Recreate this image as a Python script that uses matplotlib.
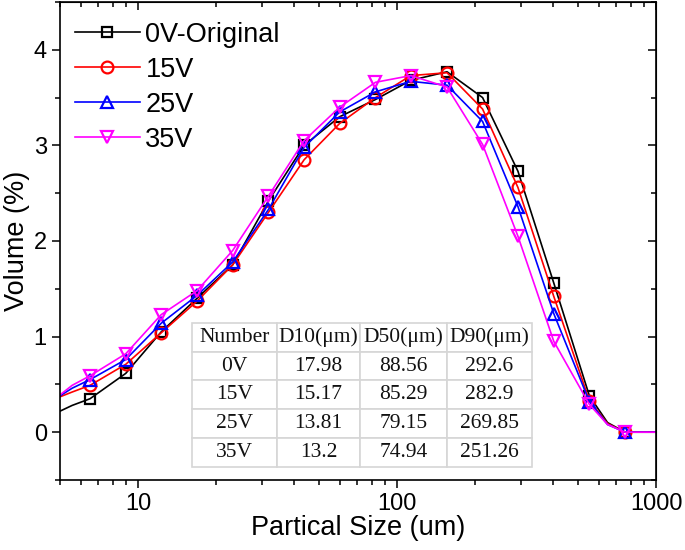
import numpy as np
import matplotlib.pyplot as plt
from matplotlib.ticker import MultipleLocator, LogLocator, NullFormatter

plt.rcParams['font.family'] = ['Liberation Sans', 'DejaVu Sans']

# tamaños de partícula (um); los marcadores van de 6.53 a 760
tamanos = [5.0, 5.57, 6.53, 8.97, 12.3, 16.9, 23.2, 31.9, 43.8, 60.1, 82.6,
           113, 156, 214, 293, 403, 553, 650, 760, 1000]

v_0v = [0.22, 0.28, 0.35, 0.615, 1.05, 1.40, 1.75, 2.42, 3.00, 3.30, 3.48,
        3.68, 3.77, 3.50, 2.73, 1.56, 0.38, 0.10, 0.0, 0.0]
v_15v = [0.37, 0.42, 0.49, 0.71, 1.04, 1.37, 1.75, 2.30, 2.85, 3.23, 3.50,
         3.73, 3.76, 3.38, 2.56, 1.42, 0.33, 0.09, 0.0, 0.0]
v_25v = [0.38, 0.46, 0.55, 0.76, 1.14, 1.43, 1.78, 2.33, 2.98, 3.35, 3.56,
         3.67, 3.63, 3.25, 2.36, 1.24, 0.32, 0.08, 0.0, 0.0]
v_35v = [0.39, 0.49, 0.59, 0.82, 1.23, 1.48, 1.90, 2.47, 3.05, 3.40, 3.66,
         3.73, 3.61, 3.01, 2.05, 0.95, 0.29, 0.08, 0.0, 0.0]

series = [
    ('0V-Original', v_0v, 'black', 's', 7.5),
    ('15V', v_15v, 'red', 'o', 8.5),
    ('25V', v_25v, 'blue', '^', 9),
    ('35V', v_35v, 'magenta', 'v', 9),
]

# tabla de diámetros característicos
col_labels = ['Number', 'D10(μm)', 'D50(μm)', 'D90(μm)']
muestras = ['0V', '15V', '25V', '35V']
d10 = ['17.98', '15.17', '13.81', '13.2']
d50 = ['88.56', '85.29', '79.15', '74.94']
d90 = ['292.6', '282.9', '269.85', '251.26']

fig = plt.figure(figsize=(6.85, 5.5), dpi=100)
ax = fig.add_axes([0.0876, 0.1273, 0.8701, 0.8691])

marcas = list(range(2, 19))
marcas.remove(17)
for nombre, valores, color, marker, ms in series:
    ax.plot(tamanos, valores, color=color, lw=1.2, marker=marker, ms=ms,
            mfc='none', mec=color, mew=1.6, markevery=marcas, label=nombre)

ax.set_xscale('log')
ax.set_xlim(5, 1000)
ax.set_ylim(-0.5, 4.5)
ax.yaxis.set_major_locator(MultipleLocator(1))
ax.yaxis.set_minor_locator(MultipleLocator(0.5))
ax.xaxis.set_minor_locator(LogLocator(base=10, subs=np.arange(2, 10)))
ax.xaxis.set_minor_formatter(NullFormatter())
ax.set_xticks([10, 100, 1000])
ax.set_xticklabels(['10', '100', '1000'])

for s in ax.spines.values():
    s.set_linewidth(1.2)
ax.tick_params(which='both', direction='out', width=1.1, labelsize=17,
               top=False, right=False)
ax.tick_params(which='major', length=6)
ax.tick_params(which='minor', length=3.5)

# ticks interiores arriba y a la derecha (estilo Origin)
ax_top = ax.secondary_xaxis('top')
ax_top.set_xticks([10, 100, 1000])
ax_top.xaxis.set_minor_locator(LogLocator(base=10, subs=np.arange(2, 10)))
ax_top.tick_params(which='both', direction='in', width=1.1, labeltop=False)
ax_top.tick_params(which='major', length=6)
ax_top.tick_params(which='minor', length=3.5)
ax_top.xaxis.set_minor_formatter(NullFormatter())
ax_top.set_xticklabels([])
ax_right = ax.secondary_yaxis('right')
ax_right.yaxis.set_major_locator(MultipleLocator(1))
ax_right.yaxis.set_minor_locator(MultipleLocator(0.5))
ax_right.tick_params(which='both', direction='in', width=1.1, labelright=False)
ax_right.tick_params(which='major', length=6)
ax_right.tick_params(which='minor', length=3.5)

ax.set_xlabel('Partical Size (um)', fontsize=19.5, labelpad=0)
ax.set_ylabel('Volume (%)', fontsize=19.5, labelpad=3)

ax.legend(loc='upper left', bbox_to_anchor=(0.016, 0.97), borderaxespad=0,
          frameon=False, fontsize=19.5, handlelength=2.4, handletextpad=0.2,
          labelspacing=0.33, borderpad=0.2)

filas = [[m, a, b, c] for m, a, b, c in zip(muestras, d10, d50, d90)]
tabla = ax.table(cellText=filas, colLabels=col_labels, cellLoc='center',
                 colWidths=[84.4, 83.3, 86.7, 85.0],
                 bbox=[0.2220, 0.0281, 0.5695, 0.3004])
tabla.auto_set_font_size(False)
for (r, c), celda in tabla.get_celld().items():
    celda.set_edgecolor('#d6d6d6')
    celda.set_linewidth(1.2)
    celda.set_facecolor('white')
    celda.get_text().set_fontsize(15.5)
    celda.get_text().set_fontfamily(['Liberation Serif', 'DejaVu Serif'])
    celda.get_text().set_color('#111111')

fig.savefig('out.png', dpi=100)
